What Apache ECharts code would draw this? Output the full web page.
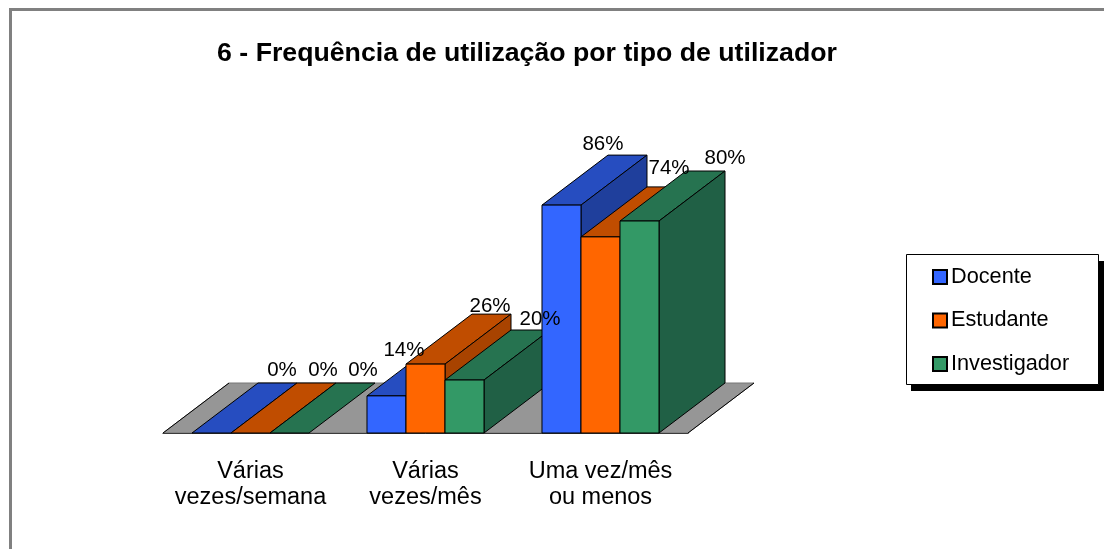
<!DOCTYPE html>
<html>
<head>
<meta charset="utf-8">
<title>Frequência de utilização</title>
<script src="https://cdn.jsdelivr.net/npm/echarts@6/dist/echarts.min.js"></script>
<style>
  html, body { margin: 0; padding: 0; background: #fff; }
  #chart { width: 1104px; height: 549px; }
</style>
</head>
<body>
<div id="chart"></div>
<script>
const categories = ["Várias\nvezes/semana", "Várias\nvezes/mês", "Uma vez/mês\nou menos"];
const docente = [0, 14, 86];
const estudante = [0, 26, 74];
const investigador = [0, 20, 80];

// frente, topo, lado de cada série
const palette = [
  ["#3366FF", "#264DC0", "#1F3F9C"],
  ["#FF6600", "#C04D00", "#A84300"],
  ["#339966", "#267350", "#206045"]
];

const DEPTH_X = 66;
const DEPTH_Y = -50;
const FONT = "'Liberation Sans', Arial, sans-serif";

// ajuste manual dos rótulos, o Excel moveu alguns [série][categoria]
const labelNudge = [
  [[0, -2], [-53, 15], [-29, 0]],
  [[2, -2], [-6, 3], [-2, -8]],
  [[3, -2], [5, 0], [15, -2]]
];

function poly(points, fill, z2) {
  return {
    type: "polygon",
    z2: z2,
    shape: { points: points },
    style: { fill: fill, stroke: "#000", lineWidth: 1 }
  };
}

function drawFloor(params) {
  const g = params.coordSys;
  const y = g.y + g.height;
  return {
    type: "group",
    children: [
      {
        type: "polygon",
        z2: 0,
        shape: { points: [[g.x, y], [g.x + DEPTH_X, y + DEPTH_Y], [g.x + g.width + DEPTH_X, y + DEPTH_Y], [g.x + g.width, y]] },
        style: { fill: "#969696", stroke: "#777", lineWidth: 1 }
      },
      { type: "line", z2: 1, shape: { x1: g.x, y1: y, x2: g.x + DEPTH_X, y2: y + DEPTH_Y }, style: { stroke: "#000", lineWidth: 1 } },
      { type: "line", z2: 1, shape: { x1: g.x + g.width, y1: y, x2: g.x + g.width + DEPTH_X, y2: y + DEPTH_Y }, style: { stroke: "#000", lineWidth: 1 } }
    ]
  };
}

function barRenderer(s) {
  return function (params, api) {
    const cat = api.value(0);
    const val = api.value(1);
    const base = api.coord([cat, 0]);
    const top = api.coord([cat, val]);
    const w = api.size([1, 0])[0] * 0.2229;
    const x0 = base[0] + (s - 1.5) * w;
    const x1 = x0 + w;
    const z = 10 + cat * 10 + s;
    const colors = palette[s];
    const nudge = labelNudge[s][cat];
    const children = [
      poly([[x0, top[1]], [x1, top[1]], [x1 + DEPTH_X, top[1] + DEPTH_Y], [x0 + DEPTH_X, top[1] + DEPTH_Y]], colors[1], z)
    ];
    if (val > 0) {
      children.push(poly([[x1, top[1]], [x1 + DEPTH_X, top[1] + DEPTH_Y], [x1 + DEPTH_X, base[1] + DEPTH_Y], [x1, base[1]]], colors[2], z));
      children.push(poly([[x0, top[1]], [x1, top[1]], [x1, base[1]], [x0, base[1]]], colors[0], z));
    }
    children.push({
      type: "text",
      z2: 200,
      style: {
        x: x0 + 90 + nudge[0],
        y: top[1] - 61 + nudge[1],
        text: val + "%",
        fill: "#000",
        font: "20.5px " + FONT,
        align: "center",
        verticalAlign: "middle"
      }
    });
    return { type: "group", children: children };
  };
}

function barSeries(name, values, s) {
  return {
    name: name,
    type: "custom",
    clip: false,
    itemStyle: { color: palette[s][0] },
    renderItem: barRenderer(s),
    encode: { x: 0, y: 1 },
    data: values.map((v, i) => [i, v])
  };
}

const chart = echarts.init(document.getElementById("chart"), null, { renderer: "canvas" });

chart.setOption({
  animation: false,
  backgroundColor: "#fff",
  title: {
    text: "6 - Frequência de utilização por tipo de utilizador",
    left: 522,
    top: 35,
    textAlign: "center",
    textStyle: { fontFamily: FONT, fontSize: 26.7, fontWeight: "bold", color: "#000" }
  },
  legend: {
    left: 906,
    top: 255,
    orient: "vertical",
    padding: [11, 29, 11, 26],
    itemGap: 21.5,
    itemWidth: 14,
    itemHeight: 14,
    icon: "rect",
    itemStyle: { borderColor: "#000", borderWidth: 2 },
    textStyle: { fontFamily: FONT, fontSize: 21.7, color: "#000", padding: [0, 0, 0, -1] },
    data: ["Docente", "Estudante", "Investigador"]
  },
  grid: { left: 163, top: 168, width: 525, height: 265 },
  xAxis: {
    type: "category",
    data: categories,
    axisTick: { show: false },
    axisLine: { lineStyle: { color: "#000", width: 1 } },
    axisLabel: {
      interval: 0,
      margin: 26,
      lineHeight: 26,
      fontFamily: FONT,
      fontSize: 23.5,
      color: "#000"
    }
  },
  yAxis: { type: "value", min: 0, max: 100, show: false },
  graphic: [
    {
      type: "polyline",
      silent: true,
      shape: { points: [[10.5, 549], [10.5, 9.5], [1104, 9.5]] },
      style: { fill: "none", stroke: "#808080", lineWidth: 3 }
    },
    // caixa da legenda e sombra
    { type: "rect", silent: true, z: 1, shape: { x: 911, y: 261, width: 193, height: 130 }, style: { fill: "#000" } },
    { type: "rect", silent: true, z: 2, shape: { x: 906.5, y: 254.5, width: 192, height: 130 }, style: { fill: "#fff", stroke: "#000", lineWidth: 1 } }
  ],
  series: [
    {
      type: "custom",
      name: "piso",
      clip: false,
      silent: true,
      renderItem: drawFloor,
      encode: { x: 0, y: 1 },
      data: [[0, 0]]
    },
    barSeries("Docente", docente, 0),
    barSeries("Estudante", estudante, 1),
    barSeries("Investigador", investigador, 2)
  ]
});
</script>
</body>
</html>
